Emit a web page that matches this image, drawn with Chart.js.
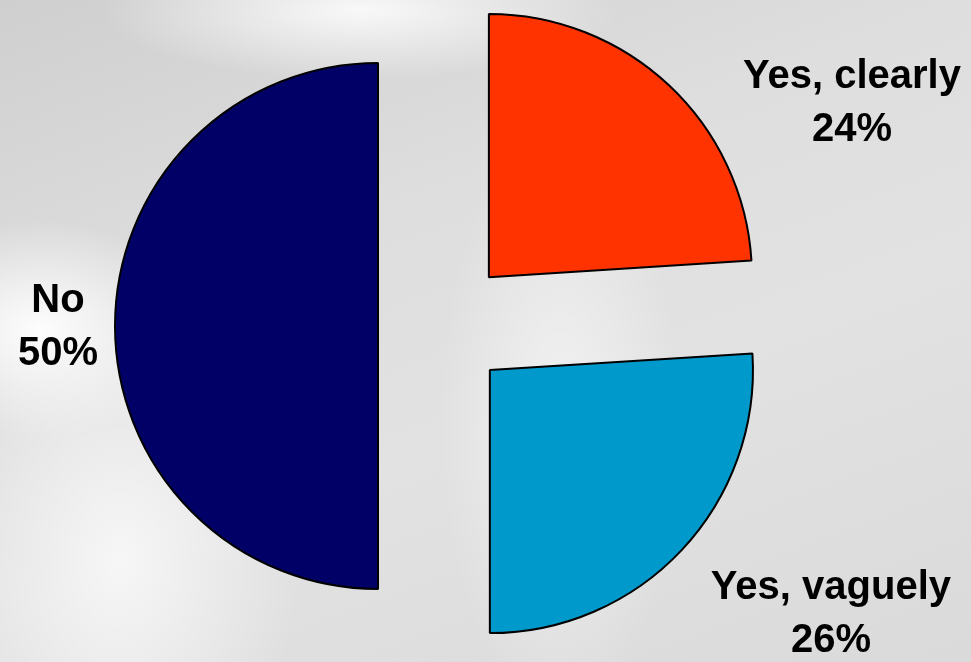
<!DOCTYPE html>
<html>
<head>
<meta charset="utf-8">
<script src="https://cdn.jsdelivr.net/npm/chart.js@4/dist/chart.umd.min.js"></script>
<style>
  html, body { margin: 0; padding: 0; }
  #wrap {
    position: relative; width: 971px; height: 662px; overflow: hidden;
    background:
      radial-gradient(ellipse 150px 110px at 40px 330px, rgba(255,255,255,.95), rgba(255,255,255,0)),
      radial-gradient(ellipse 260px 70px at 360px 10px, rgba(255,255,255,.85), rgba(255,255,255,0)),
      radial-gradient(ellipse 180px 260px at 120px 560px, rgba(255,255,255,.7), rgba(255,255,255,0)),
      radial-gradient(ellipse 120px 300px at 560px 420px, rgba(255,255,255,.55), rgba(255,255,255,0)),
      linear-gradient(160deg, #cfcfcf 0%, #dedede 35%, #e2e2e2 60%, #dadada 100%);
  }
  canvas { position: absolute; left: 0; top: 0; }
</style>
</head>
<body>
<div id="wrap">
  <canvas id="pieNo" width="971" height="662"></canvas>
  <canvas id="pieYes" width="971" height="662"></canvas>
</div>
<script>
/* ── DATA ── */
const cats = ['Yes, clearly', 'Yes, vaguely', 'No'];
const shares = [24, 26, 50];
const colors = ['#ff3300', '#0099cc', '#000066'];

/* ── LABELS ── two-line label around the pie, relative to centre / radius */
const labelPos = [
  { dx: 1.555, dy: -0.848 },
  { dx: 1.475, dy: 1.095 },
  { dx: -1.464, dy: 0.004 }
];
const pieLabels = {
  id: 'pieLabels',
  afterDraw(chart) {
    const { ctx, chartArea } = chart;
    const cx = (chartArea.left + chartArea.right) / 2;
    const cy = (chartArea.top + chartArea.bottom) / 2;
    const r = chart.getDatasetMeta(0).data[0].outerRadius;
    ctx.save();
    ctx.fillStyle = '#000';
    ctx.font = "bold 40px 'Liberation Sans', Arial, sans-serif";
    ctx.textAlign = 'center';
    ctx.textBaseline = 'middle';
    cats.forEach((c, i) => {
      const x = cx + labelPos[i].dx * r;
      const y = cy + labelPos[i].dy * r;
      ctx.fillText(c, x, y - 26);
      ctx.fillText(shares[i] + '%', x, y + 27);
    });
    ctx.restore();
  }
};

// the two "Yes" wedges are pulled out; the "No" half stays put on its own canvas
// (chart.js pushes a 180deg slice out differently, so it is drawn separately)
function makePie(id, show, offsets, padRight, extra) {
  return new Chart(document.getElementById(id), {
    type: 'pie',
    data: {
      labels: cats,
      datasets: [{
        data: shares,
        backgroundColor: colors.map((c, i) => show[i] ? c : 'rgba(0,0,0,0)'),
        borderColor: '#000',
        borderWidth: show.map(s => s ? 2 : 0),
        offset: offsets,
        clip: false
      }]
    },
    options: {
      responsive: false,
      devicePixelRatio: 1,
      animation: false,
      events: [],
      rotation: 0,
      radius: 263,
      layout: { padding: { left: 0, right: padRight, top: 0, bottom: 10 } },
      plugins: { legend: { display: false }, tooltip: { enabled: false } }
    },
    plugins: extra
  });
}

makePie('pieNo', [false, false, true], [0, 0, 0], 215, []);
makePie('pieYes', [true, true, false], [268, 257, 0], 85, [pieLabels]);
</script>
</body>
</html>
